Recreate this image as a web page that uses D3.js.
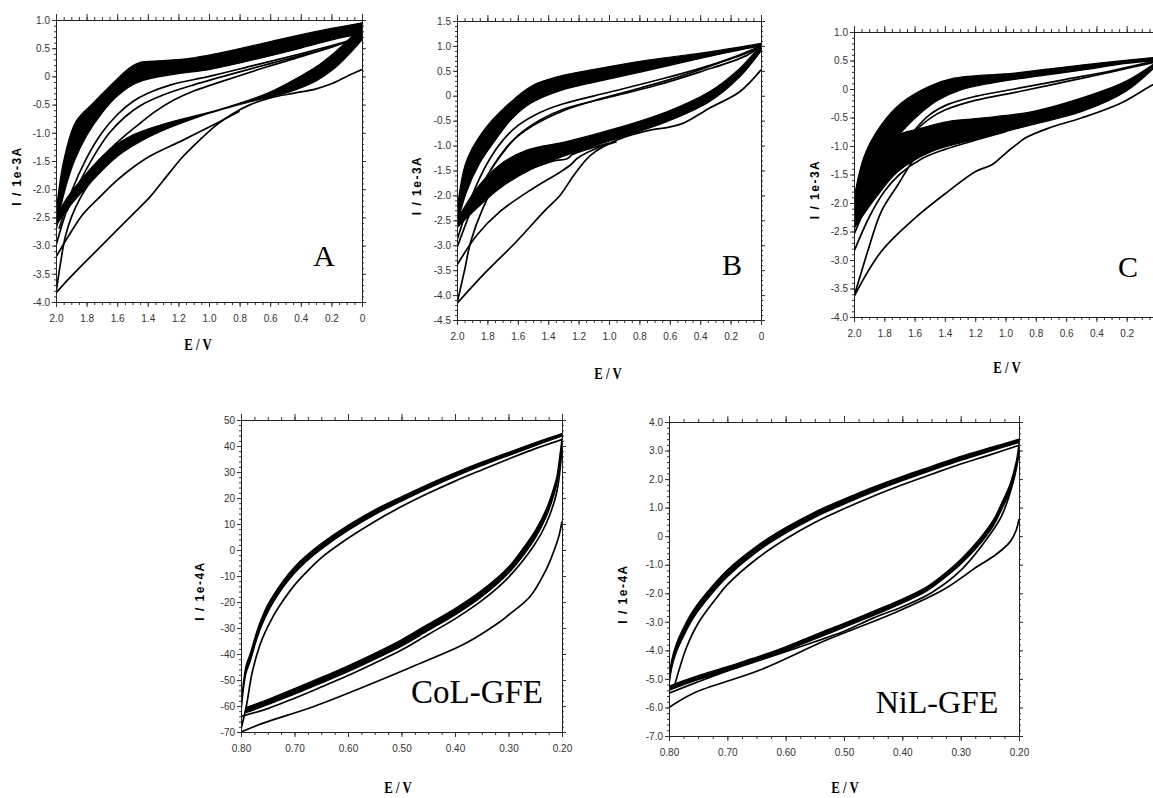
<!DOCTYPE html>
<html>
<head>
<meta charset="utf-8">
<script src="https://cdn.jsdelivr.net/npm/d3@7"></script>
<style>
  body { margin: 0; background: #fff; }
  .ylab { font-family: "Liberation Sans", Arial, sans-serif; font-weight: bold; font-size: 12px; letter-spacing: 1.5px; }
  .xlab { font-family: "Liberation Serif", "Times New Roman", serif; font-weight: bold; font-size: 16px; }
  .tag { font-family: "Liberation Serif", "Times New Roman", serif; }
</style>
</head>
<body>
<div id="fig"></div>
<script>
// ---- tick values / labels ----
var xTicksAB = [2.0, 1.8, 1.6, 1.4, 1.2, 1.0, 0.8, 0.6, 0.4, 0.2, 0];
var xLabelsAB = ["2.0", "1.8", "1.6", "1.4", "1.2", "1.0", "0.8", "0.6", "0.4", "0.2", "0"];
var xTicksC = [2.0, 1.8, 1.6, 1.4, 1.2, 1.0, 0.8, 0.6, 0.4, 0.2];
var xLabelsC = ["2.0", "1.8", "1.6", "1.4", "1.2", "1.0", "0.8", "0.6", "0.4", "0.2"];
var yTicksA = [1.0, 0.5, 0, -0.5, -1.0, -1.5, -2.0, -2.5, -3.0, -3.5, -4.0];
var yLabelsA = ["1.0", "0.5", "0", "-0.5", "-1.0", "-1.5", "-2.0", "-2.5", "-3.0", "-3.5", "-4.0"];
var yTicksB = [1.5, 1.0, 0.5, 0, -0.5, -1.0, -1.5, -2.0, -2.5, -3.0, -3.5, -4.0, -4.5];
var yLabelsB = ["1.5", "1.0", "0.5", "0", "-0.5", "-1.0", "-1.5", "-2.0", "-2.5", "-3.0", "-3.5", "-4.0", "-4.5"];
var xTicksDE = [0.8, 0.7, 0.6, 0.5, 0.4, 0.3, 0.2];
var xLabelsDE = ["0.80", "0.70", "0.60", "0.50", "0.40", "0.30", "0.20"];
var yTicksD = [50, 40, 30, 20, 10, 0, -10, -20, -30, -40, -50, -60, -70];
var yLabelsD = ["50", "40", "30", "20", "10", "0", "-10", "-20", "-30", "-40", "-50", "-60", "-70"];
var yTicksE = [4, 3, 2, 1, 0, -1, -2, -3, -4, -5, -6, -7];
var yLabelsE = ["4.0", "3.0", "2.0", "1.0", "0", "-1.0", "-2.0", "-3.0", "-4.0", "-5.0", "-6.0", "-7.0"];

// ---- panel A  [E (V), I (1e-3 A)] ----
var aTopUpper = [[2.0,-2.45],[1.95,-1.5],[1.87,-0.8],[1.76,-0.48],[1.65,-0.18],[1.52,0.15],[1.45,0.25],[1.3,0.28],[1.1,0.33],[0.85,0.46],[0.5,0.68],[0.2,0.85],[0.0,0.95]];
var aTopLower = [[2.0,-2.75],[1.95,-2.1],[1.88,-1.5],[1.8,-1.05],[1.7,-0.65],[1.6,-0.35],[1.5,-0.15],[1.4,-0.05],[1.2,0.05],[1.0,0.12],[0.7,0.3],[0.4,0.5],[0.15,0.68],[0.0,0.75]];
var aBotUpper = [[0.0,0.88],[0.1,0.62],[0.19,0.4],[0.3,0.17],[0.405,0.0],[0.62,-0.3],[0.95,-0.6],[1.28,-0.83],[1.5,-1.04],[1.65,-1.3],[1.82,-1.78],[1.95,-2.25],[2.0,-2.6]];
var aBotLower = [[0.0,0.65],[0.1,0.35],[0.19,0.12],[0.3,-0.08],[0.47,-0.27],[0.73,-0.45],[1.06,-0.71],[1.39,-1.07],[1.6,-1.42],[1.78,-1.9],[1.93,-2.37],[2.0,-2.65]];
var aScan1 = [[0.0,0.12],[0.1,0.0],[0.2,-0.13],[0.3,-0.22],[0.45,-0.3],[0.6,-0.38],[0.73,-0.5],[0.85,-0.67],[0.95,-0.86],[1.05,-1.1],[1.17,-1.42],[1.3,-1.85],[1.39,-2.15],[1.5,-2.45],[1.6,-2.72],[1.72,-3.05],[1.82,-3.32],[1.92,-3.6],[2.0,-3.84]];
var aScan2 = [[2.0,-3.84],[1.97,-3.3],[1.94,-2.85],[1.9,-2.5],[1.84,-2.15],[1.77,-1.85],[1.68,-1.55],[1.6,-1.4]];
var aScan3 = [[2.0,-3.2],[1.9,-2.75],[1.82,-2.43],[1.7,-2.1],[1.6,-1.84],[1.5,-1.62],[1.39,-1.42],[1.17,-1.13],[0.95,-0.83],[0.8,-0.62]];
var aScan4 = [[1.93,-2.4],[1.8,-1.75],[1.65,-1.3],[1.55,-1.05],[1.45,-0.83],[1.35,-0.62],[1.23,-0.42],[1.1,-0.26],[0.95,-0.12],[0.62,0.17],[0.4,0.35],[0.19,0.53],[0.03,0.7]];
var aScan5 = [[1.98,-2.7],[1.9,-2.05],[1.8,-1.45],[1.7,-1.0],[1.6,-0.68],[1.5,-0.45],[1.4,-0.3],[1.25,-0.15],[1.0,0.0],[0.7,0.2],[0.4,0.4],[0.15,0.58],[0.03,0.68]];
var aScan6 = [[2.0,-3.0],[1.92,-2.3],[1.85,-1.9],[1.75,-1.4],[1.65,-1.0],[1.55,-0.72],[1.45,-0.52],[1.3,-0.33],[1.1,-0.15],[0.8,0.08],[0.5,0.3],[0.2,0.52],[0.03,0.68]];

// ---- panel B ----
var bTopUpper = [[2.0,-2.33],[1.94,-1.33],[1.83,-0.72],[1.67,-0.19],[1.5,0.21],[1.34,0.38],[1.06,0.55],[0.73,0.72],[0.34,0.88],[0.0,1.05]];
var bTopLower = [[2.0,-2.6],[1.94,-1.95],[1.85,-1.35],[1.75,-0.9],[1.65,-0.5],[1.55,-0.22],[1.45,-0.05],[1.3,0.12],[1.1,0.27],[0.8,0.47],[0.5,0.68],[0.2,0.88],[0.0,1.0]];
var bBotUpper = [[0.0,1.02],[0.14,0.55],[0.34,0.08],[0.62,-0.32],[0.95,-0.65],[1.28,-0.92],[1.54,-1.09],[1.72,-1.39],[1.87,-1.86],[2.0,-2.5]];
var bBotLower = [[0.0,0.9],[0.14,0.38],[0.34,-0.12],[0.62,-0.52],[0.95,-0.86],[1.21,-1.12],[1.5,-1.46],[1.72,-1.86],[1.87,-2.26],[2.0,-2.65]];
var bScan1 = [[0.0,0.52],[0.14,0.08],[0.34,-0.25],[0.51,-0.55],[0.62,-0.64],[0.73,-0.69],[0.95,-0.89],[1.12,-1.19],[1.23,-1.59],[1.32,-1.99],[1.43,-2.33],[1.61,-2.93],[1.83,-3.6],[2.0,-4.17]];
var bScan2 = [[2.0,-4.17],[1.95,-3.5],[1.91,-2.93],[1.83,-2.26],[1.74,-1.73],[1.65,-1.45]];
var bScan3 = [[2.0,-3.4],[1.87,-2.8],[1.72,-2.33],[1.5,-1.86],[1.32,-1.53],[1.25,-1.38],[1.21,-1.26],[1.1,-1.08],[0.95,-0.92]];
var bScan4 = [[1.78,-1.5],[1.65,-0.95],[1.5,-0.6],[1.3,-0.3],[1.1,-0.1],[0.8,0.15],[0.5,0.42],[0.2,0.75],[0.0,1.0]];
var bScan5 = [[2.0,-2.9],[1.9,-2.0],[1.8,-1.35],[1.7,-0.9],[1.6,-0.6],[1.45,-0.33],[1.3,-0.16],[1.0,0.07],[0.7,0.3],[0.4,0.55],[0.1,0.85],[0.0,1.0]];
var bScan6 = [[2.0,-3.05],[1.9,-2.25],[1.8,-1.6],[1.7,-1.15],[1.6,-0.8],[1.45,-0.48],[1.3,-0.27],[1.0,-0.03],[0.7,0.2],[0.4,0.48],[0.1,0.8],[0.0,1.0]];
var bScan7 = [[1.9,-2.1],[1.7,-1.7],[1.5,-1.45],[1.35,-1.3],[1.28,-1.27],[1.24,-1.18],[1.15,-1.08],[1.0,-0.95]];

// ---- panel C ----
var cTopUpper = [[2.0,-1.92],[1.93,-1.16],[1.82,-0.63],[1.69,-0.25],[1.51,0.04],[1.34,0.19],[0.94,0.28],[0.5,0.42],[0.0,0.56]];
var cTopLower = [[2.0,-2.35],[1.93,-1.75],[1.85,-1.3],[1.75,-0.95],[1.65,-0.65],[1.55,-0.4],[1.45,-0.2],[1.3,-0.02],[1.1,0.1],[0.8,0.22],[0.5,0.33],[0.2,0.45],[0.0,0.5]];
var cBotUpper = [[0.0,0.48],[0.21,0.13],[0.5,-0.16],[0.83,-0.4],[1.16,-0.51],[1.38,-0.57],[1.56,-0.69],[1.71,-0.81],[1.86,-1.22],[2.0,-1.92]];
var cBotLower = [[0.0,0.42],[0.21,-0.05],[0.5,-0.4],[0.83,-0.63],[1.16,-0.86],[1.49,-1.1],[1.71,-1.45],[1.86,-1.92],[2.0,-2.45]];
var cScan1 = [[0.0,0.1],[0.03,0.07],[0.24,-0.25],[0.5,-0.51],[0.72,-0.69],[0.87,-0.86],[0.93,-0.98],[0.96,-1.04],[1.03,-1.2],[1.09,-1.33],[1.2,-1.45],[1.38,-1.8],[1.6,-2.27],[1.82,-2.85],[2.0,-3.64]];
var cScan2 = [[2.0,-3.64],[1.95,-3.2],[1.91,-2.85],[1.82,-2.15],[1.71,-1.68],[1.6,-1.22],[1.5,-0.95]];
var cScan3 = [[2.0,-2.85],[1.9,-2.25],[1.8,-1.8],[1.7,-1.5],[1.55,-1.22],[1.4,-1.06],[1.2,-0.9],[1.0,-0.75]];
var cScan4 = [[1.6,-0.72],[1.5,-0.45],[1.38,-0.27],[1.2,-0.13],[0.94,0.0],[0.6,0.17],[0.3,0.32],[0.0,0.5]];
var cScan5 = [[2.0,-2.55],[1.9,-1.95],[1.8,-1.45],[1.7,-1.05],[1.6,-0.75],[1.5,-0.52],[1.4,-0.37],[1.2,-0.2],[0.9,-0.04],[0.6,0.13],[0.3,0.3],[0.0,0.48]];

// ---- panel CoL-GFE  [E (V), I (1e-4 A)] ----
var dTopUpper = [[0.80,-60],[0.795,-50],[0.79,-44],[0.783,-40],[0.77,-31],[0.76,-25.5],[0.75,-21],[0.74,-17.5],[0.72,-11.5],[0.70,-6.5],[0.68,-2.5],[0.65,2.5],[0.60,9.5],[0.55,15.5],[0.50,20.5],[0.45,25.3],[0.40,29.7],[0.35,33.8],[0.30,37.6],[0.25,41.3],[0.20,44.8]];
var dTopLower = [[0.80,-63],[0.795,-53],[0.79,-47],[0.783,-43],[0.77,-34],[0.76,-28.5],[0.75,-24],[0.74,-20.3],[0.72,-14],[0.70,-9],[0.68,-4.8],[0.65,0.3],[0.60,7.5],[0.55,13.6],[0.50,18.8],[0.45,23.7],[0.40,28.2],[0.35,32.4],[0.30,36.3],[0.25,40.1],[0.20,43.8]];
var dScanTop = [[0.80,-69],[0.79,-60],[0.78,-48],[0.77,-40],[0.76,-34],[0.74,-25.5],[0.72,-19],[0.70,-13.5],[0.68,-9],[0.65,-3],[0.60,4.5],[0.55,11],[0.50,16.7],[0.45,21.8],[0.40,26.5],[0.35,30.8],[0.30,35],[0.25,39],[0.20,42.5]];
var dBotUpper = [[0.20,43],[0.205,35],[0.21,28],[0.22,21],[0.23,15.5],[0.25,7.5],[0.27,1.5],[0.30,-6.5],[0.35,-15.5],[0.40,-22.5],[0.45,-28.5],[0.50,-34.5],[0.55,-39.7],[0.60,-44.5],[0.65,-49],[0.70,-53.3],[0.75,-57.5],[0.79,-60.5]];
var dBotLower = [[0.20,41],[0.205,32],[0.21,25],[0.22,18],[0.23,12.5],[0.25,4.5],[0.27,-1.5],[0.30,-9],[0.35,-18],[0.40,-25],[0.45,-31],[0.50,-37],[0.55,-42],[0.60,-46.8],[0.65,-51.2],[0.70,-55.5],[0.75,-59.5],[0.79,-62.5]];
var dScanBot = [[0.20,40],[0.21,22],[0.23,10],[0.25,2.5],[0.30,-10.5],[0.35,-19.5],[0.40,-26.5],[0.45,-32.5],[0.50,-38.5],[0.55,-43.5],[0.60,-48.3],[0.65,-52.7],[0.70,-57],[0.75,-61],[0.80,-64]];
var dScan1 = [[0.20,11],[0.205,6],[0.21,2.6],[0.22,-3],[0.23,-7.7],[0.26,-18],[0.30,-25],[0.32,-28.2],[0.38,-35.9],[0.48,-44.9],[0.57,-52.6],[0.665,-60.3],[0.76,-66.7],[0.80,-70]];

// ---- panel NiL-GFE ----
var eTopUpper = [[0.80,-5.0],[0.795,-4.3],[0.787,-3.75],[0.77,-3.0],[0.758,-2.58],[0.73,-1.85],[0.70,-1.18],[0.65,-0.35],[0.60,0.3],[0.55,0.85],[0.50,1.3],[0.45,1.72],[0.40,2.1],[0.35,2.45],[0.30,2.8],[0.25,3.1],[0.20,3.4]];
var eTopLower = [[0.80,-5.25],[0.795,-4.6],[0.787,-4.05],[0.77,-3.3],[0.758,-2.86],[0.73,-2.1],[0.70,-1.42],[0.65,-0.56],[0.60,0.1],[0.55,0.66],[0.50,1.12],[0.45,1.55],[0.40,1.94],[0.35,2.3],[0.30,2.65],[0.25,2.97],[0.20,3.28]];
var eScanTop = [[0.79,-5.2],[0.77,-3.9],[0.75,-3.05],[0.72,-2.2],[0.70,-1.7],[0.65,-0.8],[0.60,-0.1],[0.55,0.48],[0.50,0.96],[0.45,1.4],[0.40,1.8],[0.35,2.17],[0.30,2.53],[0.25,2.85],[0.20,3.18]];
var eBotUpper = [[0.20,3.25],[0.205,2.6],[0.215,1.85],[0.23,1.15],[0.244,0.57],[0.27,-0.15],[0.301,-0.83],[0.33,-1.35],[0.358,-1.77],[0.40,-2.2],[0.444,-2.58],[0.50,-3.05],[0.53,-3.29],[0.57,-3.62],[0.615,-3.99],[0.66,-4.3],[0.70,-4.57],[0.75,-4.88],[0.787,-5.15],[0.80,-5.25]];
var eBotLower = [[0.20,3.05],[0.205,2.35],[0.215,1.6],[0.23,0.92],[0.244,0.36],[0.27,-0.35],[0.301,-1.0],[0.33,-1.5],[0.358,-1.92],[0.40,-2.35],[0.444,-2.73],[0.50,-3.2],[0.53,-3.44],[0.57,-3.77],[0.615,-4.14],[0.66,-4.45],[0.70,-4.72],[0.75,-5.03],[0.787,-5.3],[0.80,-5.4]];
var eScanBot = [[0.20,2.9],[0.21,1.9],[0.23,0.7],[0.25,0.05],[0.30,-1.2],[0.35,-1.98],[0.40,-2.47],[0.45,-2.87],[0.50,-3.33],[0.55,-3.7],[0.60,-4.05],[0.65,-4.38],[0.70,-4.72],[0.75,-5.1],[0.80,-5.5]];
var eScan1 = [[0.20,0.6],[0.205,0.2],[0.215,-0.19],[0.24,-0.65],[0.272,-1.07],[0.33,-1.88],[0.415,-2.70],[0.53,-3.64],[0.644,-4.69],[0.758,-5.5],[0.80,-6.0]];

var svg = d3.select("#fig").append("svg")
  .attr("width", 1153)
  .attr("height", 798);

var panels = [
  { id: "A", left: 56, top: 20, right: 362, bottom: 302, xDomain: [2, 0],
    xTicks: xTicksAB, xLabels: xLabelsAB, xMinor: 0.05,
    yTicks: yTicksA, yLabels: yLabelsA, yMinor: 0.1,
    bands: [[aTopUpper, aTopLower], [aBotUpper, aBotLower]],
    lines: [aScan1, aScan2, aScan3, aScan4, aScan5, aScan6],
    ylab: "I / 1e-3A", ylabX: 17, xlabX: 198, xlabY: 350,
    tag: "A", tagX: 324, tagY: 266, tagSize: 30 },
  { id: "B", left: 457, top: 21, right: 761, bottom: 320, xDomain: [2, 0],
    xTicks: xTicksAB, xLabels: xLabelsAB, xMinor: 0.05,
    yTicks: yTicksB, yLabels: yLabelsB, yMinor: 0.1,
    bands: [[bTopUpper, bTopLower], [bBotUpper, bBotLower]],
    lines: [bScan1, bScan2, bScan3, bScan4, bScan5, bScan6, bScan7],
    ylab: "I / 1e-3A", ylabX: 417, xlabX: 608, xlabY: 379,
    tag: "B", tagX: 732, tagY: 275, tagSize: 30 },
  { id: "C", left: 854, top: 32, right: 1157, bottom: 317, xDomain: [2, 0],
    xTicks: xTicksC, xLabels: xLabelsC, xMinor: 0.05,
    yTicks: yTicksA, yLabels: yLabelsA, yMinor: 0.1,
    bands: [[cTopUpper, cTopLower], [cBotUpper, cBotLower]],
    lines: [cScan1, cScan2, cScan3, cScan4, cScan5],
    ylab: "I / 1e-3A", ylabX: 815, xlabX: 1007, xlabY: 373,
    tag: "C", tagX: 1128, tagY: 277, tagSize: 30 },
  { id: "D", left: 241, top: 420, right: 562, bottom: 732, xDomain: [0.8, 0.2],
    xTicks: xTicksDE, xLabels: xLabelsDE, xMinor: 0.025,
    yTicks: yTicksD, yLabels: yLabelsD, yMinor: 2,
    bands: [[dTopUpper, dTopLower], [dBotUpper, dBotLower]],
    lines: [dScanTop, dScanBot, dScan1],
    ylab: "I / 1e-4A", ylabX: 200, xlabX: 398, xlabY: 793,
    tag: "CoL-GFE", tagX: 477, tagY: 703, tagSize: 33 },
  { id: "E", left: 669, top: 422, right: 1019, bottom: 736, xDomain: [0.8, 0.2],
    xTicks: xTicksDE, xLabels: xLabelsDE, xMinor: 0.025,
    yTicks: yTicksE, yLabels: yLabelsE, yMinor: 0.2,
    bands: [[eTopUpper, eTopLower], [eBotUpper, eBotLower]],
    lines: [eScanTop, eScanBot, eScan1],
    ylab: "I / 1e-4A", ylabX: 623, xlabX: 845, xlabY: 793,
    tag: "NiL-GFE", tagX: 937, tagY: 713, tagSize: 32 }
];

function minorValues(a, b, step) {
  var lo = Math.min(a, b), hi = Math.max(a, b);
  var n = Math.round((hi - lo) / step);
  return d3.range(n + 1).map(i => lo + i * step);
}

function styleAxis(sel) {
  sel.attr("font-family", '"Liberation Sans Narrow", "Arial Narrow", sans-serif')
    .attr("font-size", 10)
    .style("color", "#333");
  sel.select(".domain").attr("stroke", "#222");
  sel.selectAll(".tick line").attr("stroke", "#333");
}

panels.forEach(p => {
  var xd = p.xDomain;
  var yd = [p.yTicks[p.yTicks.length - 1], p.yTicks[0]];
  var x = d3.scaleLinear().domain(xd).range([p.left, p.right]);
  var y = d3.scaleLinear().domain(yd).range([p.bottom, p.top]);

  svg.append("clipPath").attr("id", "clip" + p.id)
    .append("rect")
    .attr("x", p.left).attr("y", p.top)
    .attr("width", p.right - p.left).attr("height", p.bottom - p.top);

  var line = d3.line()
    .x(d => x(d[0]))
    .y(d => y(d[1]))
    .curve(d3.curveCatmullRom.alpha(0.5));

  var plot = svg.append("g").attr("clip-path", "url(#clip" + p.id + ")");

  // dense bands of repeated cycles
  p.bands.forEach(b => {
    plot.append("path")
      .attr("d", line(b[0]) + line(b[1].slice().reverse()).replace(/^M/, "L") + "Z")
      .attr("fill", "#000")
      .attr("stroke", "#000")
      .attr("stroke-width", 1.2)
      .attr("stroke-linejoin", "round");
  });

  // single scans
  p.lines.forEach(l => {
    plot.append("path")
      .attr("d", line(l))
      .attr("fill", "none")
      .attr("stroke", "#000")
      .attr("stroke-width", 1.7);
  });

  var xm = minorValues(xd[0], xd[1], p.xMinor);
  var ym = minorValues(yd[0], yd[1], p.yMinor);

  // minor ticks
  svg.append("g").attr("transform", `translate(0,${p.bottom})`)
    .call(d3.axisBottom(x).tickValues(xm).tickFormat("").tickSize(3)).call(styleAxis);
  svg.append("g").attr("transform", `translate(0,${p.top})`)
    .call(d3.axisTop(x).tickValues(xm).tickFormat("").tickSize(3)).call(styleAxis);
  svg.append("g").attr("transform", `translate(${p.left},0)`)
    .call(d3.axisLeft(y).tickValues(ym).tickFormat("").tickSize(2)).call(styleAxis);
  svg.append("g").attr("transform", `translate(${p.right},0)`)
    .call(d3.axisRight(y).tickValues(ym).tickFormat("").tickSize(2)).call(styleAxis);

  // major ticks
  svg.append("g").attr("transform", `translate(0,${p.bottom})`)
    .call(d3.axisBottom(x).tickValues(p.xTicks).tickFormat((d, i) => p.xLabels[i]).tickSize(5).tickPadding(8))
    .call(styleAxis);
  svg.append("g").attr("transform", `translate(0,${p.top})`)
    .call(d3.axisTop(x).tickValues(p.xTicks).tickFormat("").tickSize(6))
    .call(styleAxis);
  svg.append("g").attr("transform", `translate(${p.left},0)`)
    .call(d3.axisLeft(y).tickValues(p.yTicks).tickFormat((d, i) => p.yLabels[i]).tickSize(4).tickPadding(2))
    .call(styleAxis);
  svg.append("g").attr("transform", `translate(${p.right},0)`)
    .call(d3.axisRight(y).tickValues(p.yTicks).tickFormat("").tickSize(4))
    .call(styleAxis);

  // axis titles
  svg.append("text")
    .attr("class", "ylab")
    .attr("text-anchor", "middle")
    .attr("transform", `translate(${p.ylabX},${(p.top + p.bottom) / 2 + 15}) rotate(-90)`)
    .attr("dy", "0.35em")
    .text(p.ylab);

  svg.append("text")
    .attr("class", "xlab")
    .attr("text-anchor", "middle")
    .attr("transform", `translate(${p.xlabX},${p.xlabY}) scale(0.8,1)`)
    .text("E / V");

  svg.append("text")
    .attr("class", "tag")
    .attr("text-anchor", "middle")
    .attr("x", p.tagX)
    .attr("y", p.tagY)
    .attr("font-size", p.tagSize)
    .text(p.tag);
});
</script>
</body>
</html>
